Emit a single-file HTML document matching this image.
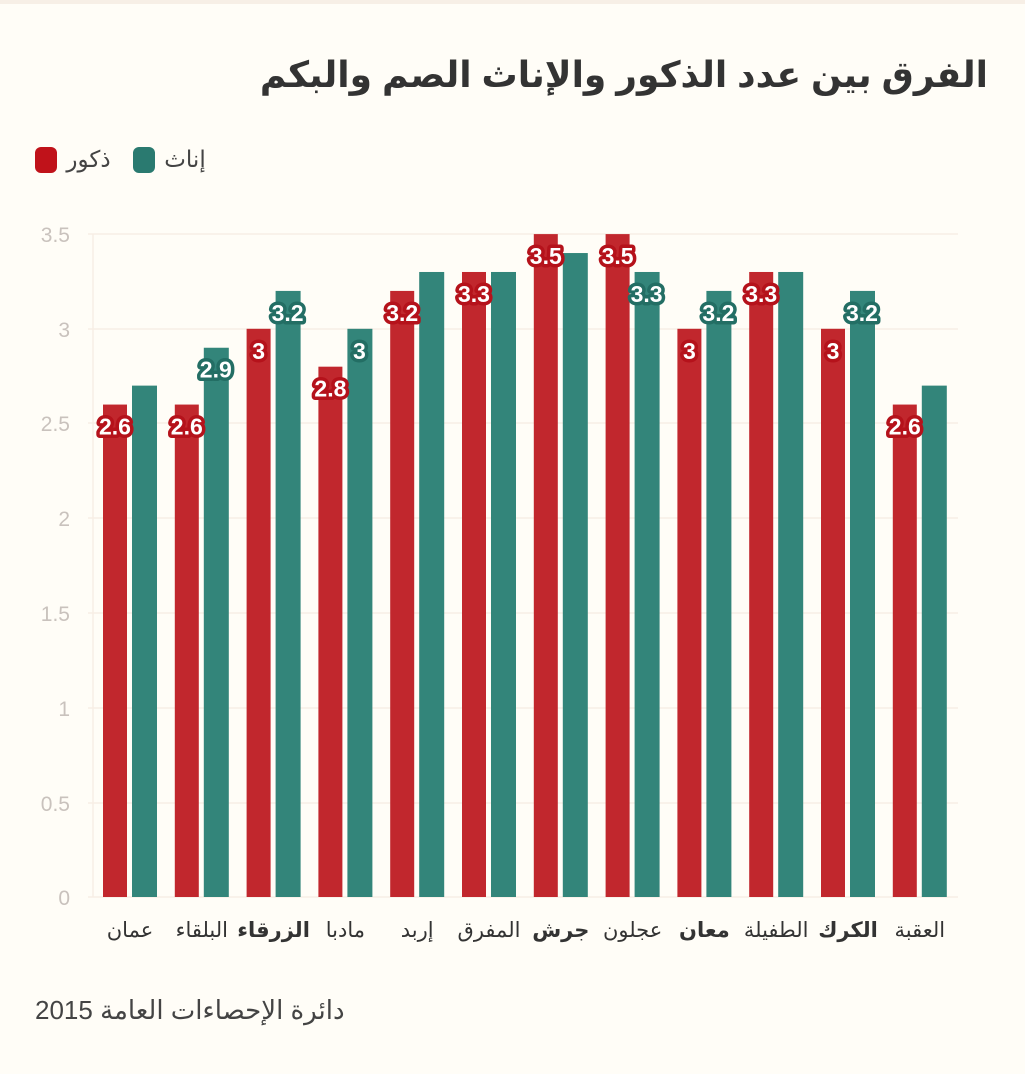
<!DOCTYPE html>
<html><head><meta charset="utf-8"><style>
body{margin:0;background:#fffdf7;position:relative;width:1025px;height:1074px;overflow:hidden;}
svg{display:block;position:absolute;left:0;top:0;font-family:"Liberation Sans","Noto Sans CJK SC",sans-serif;}
.v{font-weight:bold;font-size:23px;fill:#fff;stroke-width:7px;paint-order:stroke;stroke-linejoin:round;text-anchor:middle;}
.t{position:absolute;font-family:"Liberation Sans","DejaVu Sans",sans-serif;white-space:nowrap;direction:rtl;}
.c{position:absolute;top:918px;width:100px;text-align:center;font-family:"Liberation Sans","DejaVu Sans",sans-serif;font-size:21px;color:#333;direction:rtl;white-space:nowrap;}
</style></head><body>
<svg width="1025" height="1074" viewBox="0 0 1025 1074">
<rect x="0" y="0" width="1025" height="4" fill="#f7efe6"/>
<rect x="35" y="147" width="22" height="26" rx="6" fill="#c0121a"/>
<rect x="133" y="147" width="22" height="26" rx="6" fill="#2a7a70"/>
<g stroke="#f7eee5" stroke-width="1.5">
<line x1="88" x2="958" y1="234" y2="234"/><line x1="88" x2="958" y1="329" y2="329"/><line x1="88" x2="958" y1="423" y2="423"/><line x1="88" x2="958" y1="518" y2="518"/><line x1="88" x2="958" y1="613" y2="613"/><line x1="88" x2="958" y1="708" y2="708"/><line x1="88" x2="958" y1="803" y2="803"/><line x1="88" x2="958" y1="897" y2="897"/>
<line x1="93" x2="93" y1="234" y2="897"/>
</g>
<g font-size="21" fill="#c9c2bd" text-anchor="end">
<text x="70" y="242">3.5</text><text x="70" y="337">3</text><text x="70" y="431">2.5</text><text x="70" y="526">2</text><text x="70" y="621">1.5</text><text x="70" y="716">1</text><text x="70" y="811">0.5</text><text x="70" y="905">0</text>
</g>
<g id="bars"></g>
</svg>
<div class="t" style="right:37px;top:54px;font-size:36px;font-weight:bold;color:#333;">الفرق بين عدد الذكور والإناث الصم والبكم</div>
<div class="t" style="left:62px;top:146px;width:53px;font-size:23px;color:#444;text-align:center;">ذكور</div>
<div class="t" style="left:160px;top:146px;width:50px;font-size:23px;color:#444;text-align:center;">إناث</div>
<div class="t" style="left:35px;top:995px;font-size:26px;color:#444;direction:ltr;">دائرة الإحصاءات العامة 2015</div>
<div id="cats"></div>
<script>
const m=[2.6,2.6,3,2.8,3.2,3.3,3.5,3.5,3,3.3,3,2.6];
const f=[2.7,2.9,3.2,3,3.3,3.3,3.4,3.3,3.2,3.3,3.2,2.7];
const fl=[0,1,1,1,0,0,0,1,1,0,1,0];
const names=["عمان","البلقاء","الزرقاء","مادبا","إربد","المفرق","جرش","عجلون","معان","الطفيلة","الكرك","العقبة"];
const bold=[0,0,1,0,0,0,1,0,1,0,1,0];
let s='',c='';
const Y=v=>897-v*189.4;
for(let i=0;i<12;i++){const x=103+i*71.8;
s+=`<rect x="${x}" y="${Y(m[i])}" width="24" height="${m[i]*189.4}" fill="#c1272d"/>`;
s+=`<rect x="${x+29}" y="${Y(f[i])}" width="25" height="${f[i]*189.4}" fill="#33857a"/>`;
s+=`<text class="v" x="${x+12}" y="${Y(m[i])+30}" stroke="#b5121b">${m[i]}</text>`;
if(fl[i])s+=`<text class="v" x="${x+41}" y="${Y(f[i])+30}" stroke="#236e64">${f[i]}</text>`;
c+=`<div class="c" style="left:${x+27-50}px;${bold[i]?'font-weight:bold;':''}">${names[i]}</div>`;}
document.getElementById('bars').innerHTML=s;
document.getElementById('cats').innerHTML=c;
</script>
</body></html>
